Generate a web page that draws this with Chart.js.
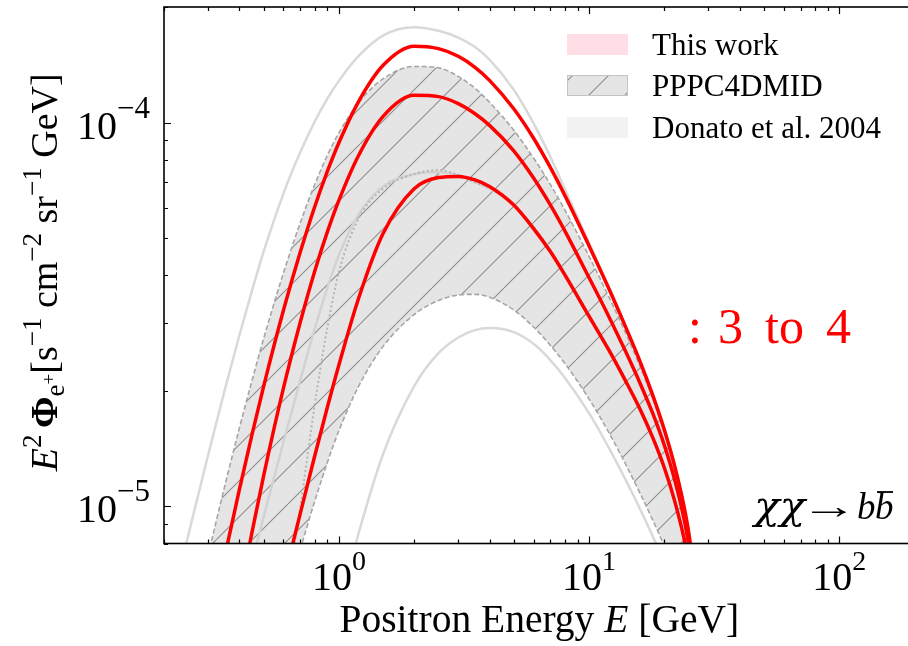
<!DOCTYPE html>
<html>
<head>
<meta charset="utf-8">
<script src="https://cdn.jsdelivr.net/npm/chart.js@4.4.1/dist/chart.umd.min.js"></script>
<style>
  html, body { margin: 0; padding: 0; background: #fff; overflow: hidden; }
  #wrap { width: 916px; height: 646px; }
</style>
</head>
<body>
<div id="wrap"><canvas id="flux-chart"></canvas></div>
<script>
// positron energy grid [GeV]
const energies = [0.2, 0.25, 0.3, 0.35, 0.4, 0.45, 0.5, 0.6, 0.7, 0.8, 0.9, 1.0,
  1.2, 1.5, 2, 2.5, 3, 3.5, 4, 5, 6, 7, 8, 10, 12, 14, 16, 18, 20, 22, 24, 25, 26];

// E^2 Phi [s^-1 cm^-2 sr^-1 GeV]
const thisWorkMax = [null, null, 4.59e-6, 7.42e-6, 1.103e-5, 1.541e-5, 2.050e-5, 3.236e-5, 4.582e-5, 6.026e-5, 7.47e-5, 8.86e-5,
  1.136e-4, 1.408e-4, 1.581e-4, 1.558e-4, 1.488e-4, 1.393e-4, 1.288e-4, 1.086e-4, 9.10e-5, 7.64e-5, 6.46e-5,
  4.77e-5, 3.69e-5, 2.93e-5, 2.38e-5, 1.94e-5, 1.58e-5, 1.27e-5, 9.94e-6, 8.57e-6, 7.12e-6];
const thisWorkMed = [null, null, null, null, 5.79e-6, 8.59e-6, 1.199e-5, 2.028e-5, 3.008e-5, 4.091e-5, 5.195e-5, 6.269e-5,
  8.218e-5, 1.036e-4, 1.177e-4, 1.168e-4, 1.120e-4, 1.054e-4, 9.83e-5, 8.44e-5, 7.17e-5, 6.10e-5, 5.22e-5,
  3.94e-5, 3.12e-5, 2.53e-5, 2.09e-5, 1.74e-5, 1.44e-5, 1.17e-5, 9.22e-6, 7.97e-6, 6.62e-6];
const thisWorkMin = [null, null, null, null, null, null, null, 6.37e-6, 9.54e-6, 1.350e-5, 1.814e-5, 2.334e-5,
  3.490e-5, 5.133e-5, 6.724e-5, 7.188e-5, 7.239e-5, 7.088e-5, 6.811e-5, 6.095e-5, 5.293e-5, 4.610e-5, 4.009e-5,
  3.126e-5, 2.552e-5, 2.120e-5, 1.788e-5, 1.505e-5, 1.258e-5, 1.030e-5, 8.20e-6, 7.12e-6, 5.91e-6];

const pppcMax = [null, null, 7.45e-6, 1.131e-5, 1.597e-5, 2.131e-5, 2.730e-5, 4.049e-5, 5.464e-5, 6.887e-5, 8.218e-5, 9.40e-5,
  1.128e-4, 1.299e-4, 1.400e-4, 1.389e-4, 1.319e-4, 1.228e-4, 1.129e-4, 9.55e-5, 8.08e-5, 6.90e-5, 5.92e-5,
  4.48e-5, 3.51e-5, 2.83e-5, 2.31e-5, 1.90e-5, 1.55e-5, 1.25e-5, 9.82e-6, 8.47e-6, 7.03e-6];
const pppcMed = [null, null, null, null, null, null, null, 5.23e-6, 9.87e-6, 1.83e-5, 2.93e-5, 4.08e-5,
  5.63e-5, 6.72e-5, 7.34e-5, 7.52e-5, 7.30e-5, 6.98e-5, 6.75e-5, 6.10e-5, 5.35e-5, 4.66e-5, 4.05e-5,
  3.16e-5, 2.58e-5, 2.14e-5, 1.81e-5, 1.52e-5, 1.27e-5, 1.04e-5, 8.29e-6, 7.19e-6, null];
const pppcMin = [null, null, null, null, null, null, null, null, 7.71e-6, 1.029e-5, 1.302e-5, 1.574e-5,
  2.057e-5, 2.607e-5, 3.161e-5, 3.437e-5, 3.553e-5, 3.567e-5, 3.505e-5, 3.248e-5, 2.932e-5, 2.628e-5, 2.357e-5,
  1.904e-5, 1.556e-5, 1.287e-5, 1.080e-5, 9.18e-6, 7.84e-6, 6.54e-6, null, null, null];

const donatoMax = [4.69e-6, 8.40e-6, 1.359e-5, 2.014e-5, 2.786e-5, 3.659e-5, 4.604e-5, 6.52e-5, 8.35e-5, 1.005e-4, 1.155e-4, 1.284e-4,
  1.491e-4, 1.685e-4, 1.771e-4, 1.734e-4, 1.665e-4, 1.573e-4, 1.459e-4, 1.217e-4, 9.95e-5, 8.14e-5, 6.71e-5,
  4.86e-5, 3.72e-5, 2.96e-5, 2.40e-5, 1.96e-5, 1.597e-5, 1.282e-5, 1.003e-5, 8.65e-6, 7.18e-6];
const donatoMed = [null, null, null, null, null, 7.20e-6, 9.36e-6, 1.468e-5, 2.124e-5, 2.895e-5, 3.720e-5, 4.514e-5,
  5.774e-5, 6.818e-5, 7.338e-5, 7.430e-5, 7.273e-5, 6.996e-5, 6.73e-5, 6.07e-5, 5.33e-5, 4.64e-5, 4.03e-5,
  3.15e-5, 2.57e-5, 2.13e-5, 1.80e-5, 1.51e-5, 1.27e-5, 1.04e-5, 8.25e-6, 7.16e-6, null];
const donatoMin = [null, null, null, null, null, null, null, null, null, null, null, 5.41e-6,
  8.52e-6, 1.365e-5, 2.057e-5, 2.506e-5, 2.754e-5, 2.878e-5, 2.913e-5, 2.843e-5, 2.651e-5, 2.405e-5, 2.164e-5,
  1.749e-5, 1.420e-5, 1.172e-5, 9.83e-6, 8.33e-6, 7.10e-6, null, null, null, null];

const xTickLabels = [[1, '0'], [10, '1'], [100, '2']];
const yTickLabels = [[1e-5, '\u22125'], [1e-4, '\u22124']];
const legendLabels = ['This work', 'PPPC4DMID', 'Donato et al. 2004'];

const SERIF = '"Liberation Serif", "Times New Roman", serif';

const pts = (ys) => energies.map((e, i) => ({x: e, y: ys[i]})).filter(p => p.y !== null);

function makeHatch() {
    const s = 36;
    const c = document.createElement('canvas');
    c.width = s; c.height = s;
    const g = c.getContext('2d');
    g.fillStyle = '#e5e5e5';
    g.fillRect(0, 0, s, s);
    g.strokeStyle = 'rgba(105,105,105,0.7)';
    g.lineWidth = 1.1;
    g.beginPath();
    for (const off of [-s, 0, s]) {
        g.moveTo(off, s);
        g.lineTo(off + s, 0);
    }
    g.stroke();
    return g.createPattern(c, 'repeat');
}
const hatch = makeHatch();

const line = (label, ys, color, width, dash) => ({
    label,
    data: pts(ys),
    borderColor: color,
    borderWidth: width,
    borderDash: dash || [],
    pointRadius: 0,
    fill: false,
    cubicInterpolationMode: 'monotone',
    clip: 0,
});

// draws a row of text pieces (for super/subscripts)
function drawRuns(ctx, runs, x, y, align) {
    let total = 0;
    for (const r of runs) {
        ctx.font = r.font;
        r.w = ctx.measureText(r.t).width;
        total += r.w;
    }
    let cx = align === 'right' ? x - total : align === 'center' ? x - total / 2 : x;
    ctx.textAlign = 'left';
    ctx.textBaseline = 'alphabetic';
    for (const r of runs) {
        ctx.font = r.font;
        ctx.fillText(r.t, cx, y + (r.dy || 0));
        r.x = cx;
        cx += r.w;
    }
    return runs;
}

// stretches a glyph run horizontally so its ink spans x0..x1
function fitText(ctx, t, font, x0, x1, yb) {
    ctx.font = font;
    ctx.textAlign = 'left';
    const m = ctx.measureText(t);
    const w = m.actualBoundingBoxLeft + m.actualBoundingBoxRight;
    const sx = (x1 - x0) / w;
    ctx.save();
    ctx.translate(x0 + m.actualBoundingBoxLeft * sx, yb);
    ctx.scale(sx, 1);
    ctx.fillText(t, 0, 0);
    ctx.restore();
}

const decorPlugin = {
    id: 'decor',
    afterDraw(chart) {
        const {ctx, chartArea: a, scales: {x, y}} = chart;
        ctx.save();
        ctx.fillStyle = '#000';
        ctx.strokeStyle = '#000';

        // frame
        ctx.lineWidth = 1.6;
        ctx.strokeRect(a.left, a.top, a.right - a.left, a.bottom - a.top);

        // inward ticks
        ctx.beginPath();
        for (const d of [0.1, 1, 10, 100]) {
            for (let m = 1; m <= 9; m++) {
                const v = m * d;
                if (v < x.min * 0.999 || v > x.max * 1.001) continue;
                const len = m === 1 ? 7 : 4;
                const px = Math.round(x.getPixelForValue(v)) + 0.5;
                ctx.moveTo(px, a.bottom); ctx.lineTo(px, a.bottom - len);
                ctx.moveTo(px, a.top); ctx.lineTo(px, a.top + len);
            }
        }
        for (const d of [1e-6, 1e-5, 1e-4]) {
            for (let m = 1; m <= 9; m++) {
                const v = m * d;
                if (v < y.min * 0.999 || v > y.max * 1.001) continue;
                const len = m === 1 ? 7 : 4;
                const py = Math.round(y.getPixelForValue(v)) + 0.5;
                ctx.moveTo(a.left, py); ctx.lineTo(a.left + len, py);
            }
        }
        ctx.lineWidth = 1.2;
        ctx.stroke();

        // tick labels
        const base = `40px ${SERIF}`;
        for (const [v, e] of xTickLabels) {
            drawRuns(ctx, [{t: '10', font: base}, {t: e, font: `28px ${SERIF}`, dy: -20}],
                x.getPixelForValue(v), 590, 'center');
        }
        for (const [v, e] of yTickLabels) {
            drawRuns(ctx, [{t: '10', font: base}, {t: e, font: `31px ${SERIF}`, dy: -21}],
                150, y.getPixelForValue(v) + 16, 'right');
        }

        // axis titles
        drawRuns(ctx, [
            {t: 'Positron Energy ', font: `39.5px ${SERIF}`},
            {t: 'E', font: `italic 39.5px ${SERIF}`},
            {t: ' [GeV]', font: `39.5px ${SERIF}`},
        ], (a.left + a.right) / 2, 632, 'center');

        ctx.save();
        ctx.translate(57, (a.top + a.bottom) / 2 - 3);
        ctx.rotate(-Math.PI / 2);
        const T = `38px ${SERIF}`, S = `27px ${SERIF}`;
        drawRuns(ctx, [
            {t: 'E', font: `italic ${T}`},
            {t: '2', font: S, dy: -16},
            {t: ' ', font: `26px ${SERIF}`},
            {t: '\u03A6', font: `bold ${T}`},
            {t: 'e', font: S, dy: 7},
            {t: '+', font: `19px ${SERIF}`, dy: -2},
            {t: '[s', font: T},
            {t: '\u22121', font: S, dy: -16},
            {t: ' cm', font: T},
            {t: '\u22122', font: S, dy: -16},
            {t: ' sr', font: T},
            {t: '\u22121', font: S, dy: -16},
            {t: ' GeV]', font: T},
        ], 0, 0, 'center');
        ctx.restore();

        // legend
        const lx = 567, lw = 61, lh = 21;
        const rows = [34, 75, 117];
        ctx.fillStyle = '#ffdee5';
        ctx.fillRect(lx, rows[0], lw, lh);
        ctx.fillStyle = hatch;
        ctx.fillRect(lx, rows[1], lw, lh);
        ctx.strokeStyle = '#c4c4c4';
        ctx.lineWidth = 1;
        ctx.strokeRect(lx + 0.5, rows[1] + 0.5, lw - 1, lh - 1);
        ctx.fillStyle = '#f2f2f2';
        ctx.fillRect(lx, rows[2], lw, lh);
        ctx.fillStyle = '#000';
        ctx.font = `31px ${SERIF}`;
        ctx.textAlign = 'left';
        legendLabels.forEach((t, i) => ctx.fillText(t, 652, rows[i] + 21));

        // channel label
        const cb = 519;
        fitText(ctx, '\u03C7\u03C7', `italic 40px "DejaVu Serif", ${SERIF}`, 751, 808, cb);
        fitText(ctx, '\u2192', `36px ${SERIF}`, 812, 847, cb - 1);
        ctx.font = `italic 37px ${SERIF}`;
        ctx.textAlign = 'left';
        ctx.fillText('b', 857, cb);
        ctx.fillText('b', 875, cb);
        ctx.strokeStyle = '#000';
        ctx.lineWidth = 1.8;
        ctx.beginPath();
        ctx.moveTo(877, cb - 27);
        ctx.lineTo(893, cb - 27);
        ctx.stroke();

        // red annotation
        ctx.fillStyle = '#ff0000';
        ctx.font = `50px ${SERIF}`;
        ctx.fillText(':', 688, 343);
        ctx.fillText('3', 718, 343);
        ctx.fillText('to', 765, 343);
        ctx.fillText('4', 826, 343);

        ctx.restore();
    }
};

const fluxCanvas = document.getElementById('flux-chart');
const bandOutline = [...pts(pppcMax), ...pts(pppcMin).reverse()];

const fluxData = {
    datasets: [
        line('This work', thisWorkMax, '#ff0000', 3.5),
        line('This work', thisWorkMed, '#ff0000', 3.5),
        line('This work', thisWorkMin, '#ff0000', 3.5),
        line('PPPC4DMID med', pppcMed, '#b4b4b4', 2, [2, 2.5]),
        line('PPPC4DMID max', pppcMax, '#a6a6a6', 1.6, [5, 2.5]),
        line('PPPC4DMID min', pppcMin, '#a6a6a6', 1.6, [5, 2.5]),
        line('Donato med', donatoMed, '#d2d2d2', 2.5),
        line('Donato max', donatoMax, '#d9d9d9', 2.5),
        line('Donato min', donatoMin, '#d9d9d9', 2.5),
        {
            label: 'PPPC4DMID band',
            data: bandOutline,
            fill: 'shape',
            backgroundColor: hatch,
            borderColor: 'transparent',
            borderWidth: 0,
            pointRadius: 0,
            cubicInterpolationMode: 'monotone',
            clip: 0,
        },
    ]
};

const fluxConfig = {
    type: 'line',
    data: fluxData,
    options: {
        animation: false,
        responsive: true,
        maintainAspectRatio: false,
        layout: {
            padding: {left: 164, top: 7, right: 1.4, bottom: 102.5}
        },
        scales: {
            x: {type: 'logarithmic', min: 0.2, max: 200, display: false},
            y: {type: 'logarithmic', min: 8e-6, max: 2e-4, display: false},
        },
        plugins: {
            legend: {display: false},
            tooltip: {enabled: false},
        },
    },
    plugins: [decorPlugin],
};

const fluxChart = new Chart(fluxCanvas, fluxConfig);
</script>
</body>
</html>
